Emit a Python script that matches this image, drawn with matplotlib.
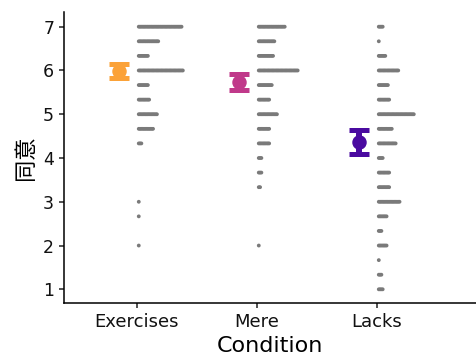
import matplotlib
matplotlib.use("Agg")
import matplotlib.pyplot as plt
import numpy as np

plt.rcParams['font.family'] = ['DejaVu Sans', 'Noto Sans CJK JP']

conditions = ["Exercises", "Mere", "Lacks"]
levels = [1, 4/3, 5/3, 2, 7/3, 8/3, 3, 10/3, 11/3, 4, 13/3, 14/3, 5,
          16/3, 17/3, 6, 19/3, 20/3, 7]
counts_exercises = [0, 0, 0, 1, 0, 1, 1, 0, 0, 0, 3, 12, 15, 9, 8, 35, 8, 16, 34]
counts_mere = [0, 0, 0, 1, 0, 0, 0, 2, 3, 3, 9, 9, 15, 9, 11, 31, 12, 13, 21]
counts_lacks = [4, 3, 1, 7, 3, 7, 17, 9, 9, 4, 14, 11, 28, 9, 8, 16, 6, 1, 4]
all_counts = [counts_exercises, counts_mere, counts_lacks]
means = [5.99, 5.73, 4.36]
errors = [0.155, 0.18, 0.27]
colors = ["#FBA238", "#C0398A", "#4A0AA0"]
yticks = [1, 2, 3, 4, 5, 6, 7]

fig = plt.figure(figsize=(4.76, 3.57), dpi=100)
ax = fig.add_axes([64/476, 1-303/357, 1-64/476, (303-12)/357])

xpos = np.arange(1, len(conditions)+1)
dot_step = 0.0108
dot_off = 0.0150
for xi, counts in zip(xpos, all_counts):
    for lv, n in zip(levels, counts):
        if n <= 0:
            continue
        xs = xi + dot_off + dot_step*np.arange(n)
        ax.scatter(xs, np.full(n, lv), s=7.5, color="#7a7a7a", edgecolors="none", zorder=2)

for xi, m, e, c in zip(xpos, means, errors, colors):
    ax.errorbar(xi - 0.15, m, yerr=e, fmt='o', color=c, markersize=9.4,
                elinewidth=4.3, capsize=7.2, capthick=3.6, zorder=3)

ax.set_xlim(0.392, 3.825)
ax.set_ylim(0.687, 7.336)
ax.set_xticks(xpos)
ax.set_xticklabels(conditions, fontsize=13)
ax.set_yticks(yticks)
ax.set_yticklabels([str(t) for t in yticks], fontsize=12.5)
ax.set_xlabel("Condition", fontsize=16, labelpad=4)
ax.set_ylabel("同意", fontsize=16, family=['Noto Sans CJK JP', 'DejaVu Sans'], labelpad=4)
for s in ['top', 'right']:
    ax.spines[s].set_visible(False)
for s in ['left', 'bottom']:
    ax.spines[s].set_linewidth(1.1)
ax.tick_params(axis='both', length=3.6, width=1.1, color='#222222', labelcolor='#111111')

fig.savefig("out.png", dpi=100)
